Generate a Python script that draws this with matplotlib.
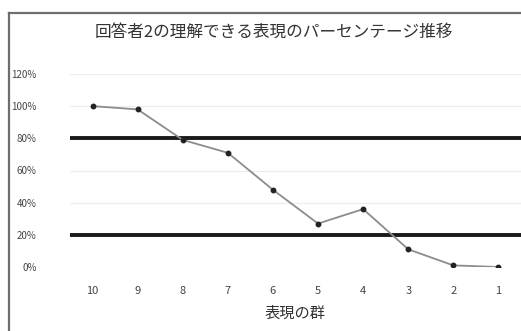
import matplotlib.pyplot as plt
from matplotlib.lines import Line2D

plt.rcParams['font.family'] = ['Noto Sans CJK JP', 'DejaVu Sans']

# Data.
groups = ['10', '9', '8', '7', '6', '5', '4', '3', '2', '1']
percent = [100, 98, 79, 71, 48, 27, 36, 11, 1, 0]
upper_line = 80
lower_line = 20
y_ticks = [0, 20, 40, 60, 80, 100, 120]

fig = plt.figure(figsize=(5.21, 3.31), dpi=100)
ax = fig.add_axes([70 / 521, 1 - 267 / 331, 451 / 521, 193 / 331])

# Outer chart frame: only the left and top edges show in the crop.
fx = 8.5 / 521
fy = 1 - 12.5 / 331
fig.lines.append(Line2D([fx, fx], [0, fy], transform=fig.transFigure,
                        color='#6e6e6e', linewidth=1.6))
fig.lines.append(Line2D([fx, 1], [fy, fy], transform=fig.transFigure,
                        color='#6e6e6e', linewidth=1.6))

x = list(range(len(groups)))
for t in y_ticks[1:]:
    ax.axhline(t, color='#ececec', linewidth=0.8, zorder=0)
ax.axhline(upper_line, color='#1a1a1a', linewidth=2.8, zorder=1)
ax.axhline(lower_line, color='#1a1a1a', linewidth=2.8, zorder=1)
ax.plot(x, percent, color='#8c8c8c', linewidth=1.3, zorder=2)
ax.plot(x, percent, linestyle='none', marker='o', markersize=3.2,
        color='#222222', zorder=3)

ax.set_xlim(-0.5, len(groups) - 0.5)
ax.set_ylim(0, 120)
ax.set_xticks(x)
ax.set_xticklabels(groups)
ax.set_yticks(y_ticks)
ax.set_yticklabels([f'{t}%' for t in y_ticks])
ax.tick_params(axis='y', length=0, pad=24, labelsize=7, labelcolor='#444444')
ax.tick_params(axis='x', length=0, pad=14, labelsize=8, labelcolor='#444444')
for s in ax.spines.values():
    s.set_visible(False)

ax.set_xlabel('表現の群', fontsize=11, color='#333333', labelpad=6)
fig.text(274 / 521, 1 - 32 / 331, '回答者2の理解できる表現のパーセンテージ推移',
         ha='center', va='center', fontsize=12, color='#333333')

fig.savefig('out.png', dpi=100)
